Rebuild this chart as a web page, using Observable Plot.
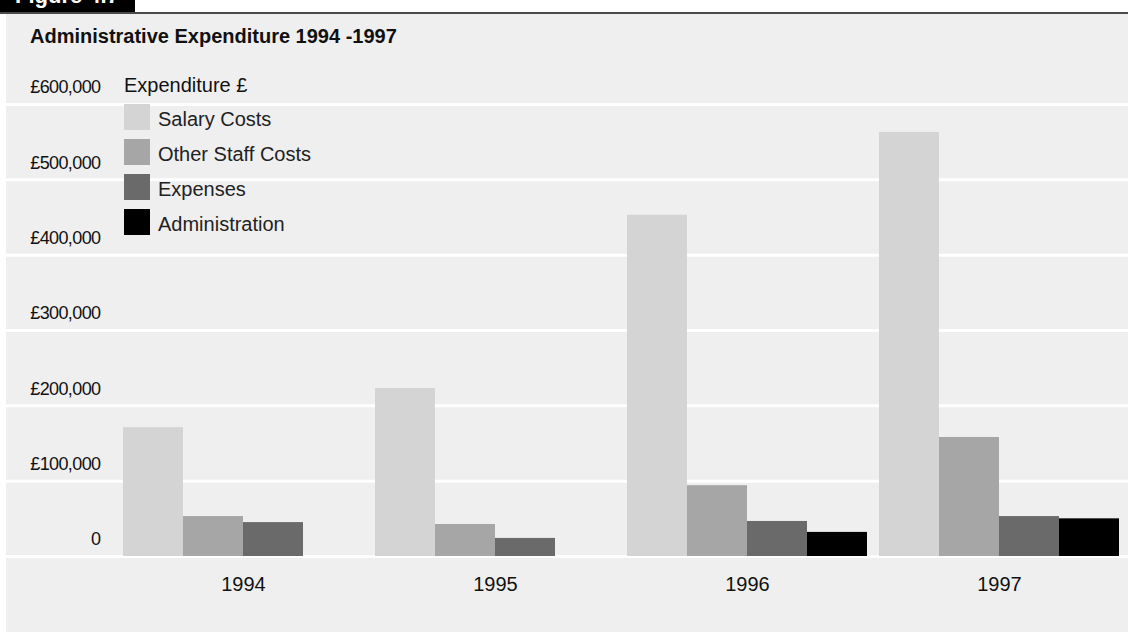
<!DOCTYPE html>
<html>
<head>
<meta charset="utf-8">
<script src="https://cdn.jsdelivr.net/npm/d3@7"></script>
<script src="https://cdn.jsdelivr.net/npm/@observablehq/plot@0.6"></script>
<style>
  html, body { margin: 0; padding: 0; background: #ffffff; overflow: hidden; }
  #wrap { position: relative; width: 1128px; height: 632px; font-family: "Liberation Sans", Arial, sans-serif; }
  #bg { position: absolute; left: 6px; top: 14px; width: 1122px; height: 618px; background: #efefef; }
  #topline { position: absolute; left: 0; top: 12px; width: 1128px; height: 2px; background: #4a4a4a; }
  #figlabel { position: absolute; left: 0; top: 0; width: 135px; height: 12px; background: #000; overflow: hidden; }
  #figlabel span { position: absolute; left: 15px; top: -15px; font: bold 22px/22px "Liberation Sans", Arial, sans-serif; color: #fff; white-space: nowrap; }
  #title { position: absolute; left: 30px; top: 25.5px; font: bold 20px/20px "Liberation Sans", Arial, sans-serif; color: #111; white-space: nowrap; }
  #legtitle { position: absolute; left: 124px; top: 74.5px; font: 20px/20px "Liberation Sans", Arial, sans-serif; color: #111; white-space: nowrap; }
  .legrow { position: absolute; left: 124px; height: 26px; }
  .legrow .sw { position: absolute; left: 0; top: 0; width: 26px; height: 26px; }
  .legrow .lab { position: absolute; left: 34px; top: 4.5px; font: 20px/20px "Liberation Sans", Arial, sans-serif; color: #222; white-space: nowrap; }
  svg { position: absolute; left: 0; top: 0; }
</style>
</head>
<body>
<div id="wrap">
  <div id="bg"></div>
  <div id="topline"></div>
  <div id="figlabel"><span>Figure 4.7</span></div>
</div>
<script>
// ---- data ----
const years = ["1994", "1995", "1996", "1997"];
const series = ["Salary Costs", "Other Staff Costs", "Expenses", "Administration"];
const salaryCosts = [171000, 223000, 453000, 563000];
const otherStaffCosts = [53000, 42500, 94000, 158000];
const expenses = [45000, 24000, 46500, 53000];
const administration = [0, 0, 32000, 50000];
const colors = ["#d4d4d4", "#a6a6a6", "#6a6a6a", "#000000"];
const yTicks = [0, 100000, 200000, 300000, 400000, 500000, 600000];
const yTickLabels = ["0", "£100,000", "£200,000", "£300,000", "£400,000", "£500,000", "£600,000"];
const titleText = "Administrative Expenditure 1994 -1997";
const legendTitle = "Expenditure £";

const seriesValues = [salaryCosts, otherStaffCosts, expenses, administration];
const rows = years.flatMap((yr, i) =>
  seriesValues.map((arr, j) => ({year: yr, series: series[j], value: arr[i]}))
).filter(d => d.value > 0);

const W = 1128, H = 632;
const yScale = {domain: [0, 600000], axis: null};
const fontFamily = '"Liberation Sans", Arial, sans-serif';

// underlay: gridlines + y tick labels
const under = Plot.plot({
  width: W, height: H,
  marginTop: 104, marginBottom: 76, marginLeft: 6, marginRight: 0,
  y: yScale,
  style: `background: transparent; font-family: ${fontFamily}; letter-spacing: -0.6px; overflow: visible;`,
  marks: [
    Plot.ruleY(yTicks, {y: d => d, stroke: "#ffffff", strokeWidth: 3}),
    Plot.text(yTicks, {
      y: d => d, text: (d, i) => yTickLabels[i],
      frameAnchor: "left", dx: 94, dy: -17, textAnchor: "end",
      fontSize: 18, fill: "#111"
    })
  ]
});

// overlay: grouped bars with year axis
const over = Plot.plot({
  width: W, height: H,
  marginTop: 104, marginBottom: 76, marginLeft: 117, marginRight: 3,
  facet: {data: rows, x: "year"},
  fx: {domain: years, paddingInner: 10 / 252, paddingOuter: 5 / 252, axis: "bottom", tickSize: 0, tickPadding: 20, label: null},
  x: {domain: series, padding: 0, axis: null},
  y: yScale,
  color: {domain: series, range: colors},
  style: `background: transparent; font-family: ${fontFamily}; font-size: 20px; color: #111; overflow: visible;`,
  marks: [
    Plot.barY(rows, {x: "series", y: "value", fill: "series", inset: 0})
  ]
});

const wrap = document.getElementById("wrap");
wrap.appendChild(under);
wrap.appendChild(over);

// title
const t = document.createElement("div");
t.id = "title"; t.textContent = titleText;
wrap.appendChild(t);

// legend
const lt = document.createElement("div");
lt.id = "legtitle"; lt.textContent = legendTitle;
wrap.appendChild(lt);
series.forEach((s, i) => {
  const row = document.createElement("div");
  row.className = "legrow";
  row.style.top = (104 + i * 35) + "px";
  const sw = document.createElement("div");
  sw.className = "sw"; sw.style.background = colors[i];
  const lab = document.createElement("div");
  lab.className = "lab"; lab.textContent = s;
  row.appendChild(sw); row.appendChild(lab);
  wrap.appendChild(row);
});
</script>
</body>
</html>
